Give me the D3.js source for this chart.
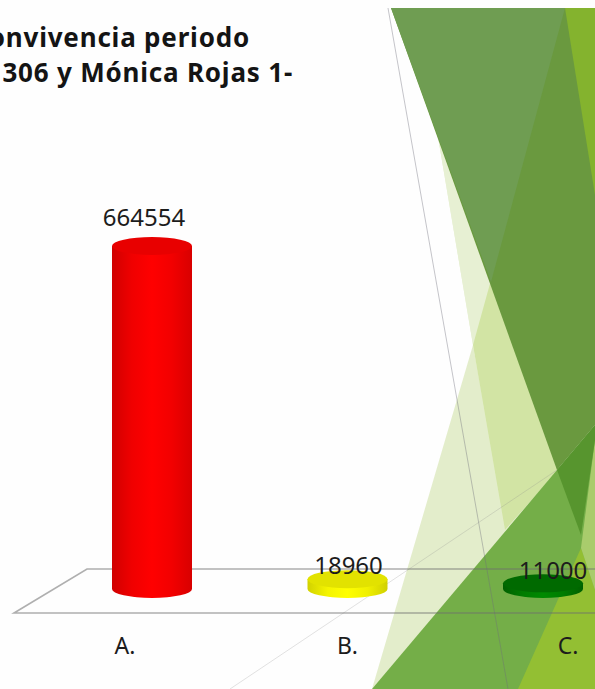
<!DOCTYPE html>
<html><head><meta charset="utf-8">
<script src="https://cdn.jsdelivr.net/npm/d3@7"></script>
<style>html,body{margin:0;padding:0;background:#fefefe;overflow:hidden}svg{display:block}</style>
</head><body><svg id="c" width="595" height="689"></svg>
<script>
const categories = ["A.", "B.", "C."];
const values = [664554, 18960, 11000];
const titleLines = ["convivencia periodo", "306 y Mónica Rojas 1-"];
const sideStops = [["#d00000","#f00000","#ff0000","#f20000","#d80000"],
                   ["#d2d200","#f4f400","#ffff00","#f0f000","#d0d000"],
                   ["#006000","#007c00","#008a00","#007c00","#006000"]];
const topColors = ["#e80000","#e2e200","#006a00"];
const labelDx = [-8, 1, 10];
const labelDy = [-20, -5, -4];
const catDx = [-27, 0, 25];

const svg = d3.select("#c");
const x = d3.scalePoint().domain(categories).range([152, 543]);
const y = d3.scaleLinear().domain([0, 664554]).range([589, 246]);
const rx = 40, ry = 9;

const bg = svg.append("g");
const poly = (pts, fill, op=1) => bg.append("polygon").attr("points", pts.join(" ")).attr("fill", fill).attr("opacity", op);
poly([[473,345],[372,689],[520,600]], "#e3edcb");
poly([[438,137],[473,345],[510,560],[560,470],[488,280]], "#e7f0d3");
poly([[438,137],[473,345],[491,280]], "#e7f0d3");
poly([[473,345],[491,280],[560,468],[505,530]], "#d2e4a4");
poly([[372,689],[595,425],[595,689]], "#74ae48");
poly([[518,689],[595,689],[595,590],[581,548]], "#93bf33");
poly([[581,548],[595,440],[595,590]], "#a9cc6c");
poly([[391,8],[595,8],[595,425],[557,470]], "#6a993f");
poly([[391,8],[565,8],[491,282]], "#6f9d52");
poly([[565,8],[595,8],[595,195]], "#84b32e");
poly([[557,470],[595,425],[595,440],[581,535]], "#57952e");

bg.append("line").attr("x1",388).attr("y1",8).attr("x2",508).attr("y2",689).attr("stroke","#6d6d7a").attr("stroke-opacity",.4).attr("stroke-width",1);
bg.append("line").attr("x1",230).attr("y1",689).attr("x2",557).attr("y2",470).attr("stroke","#8a8a8a").attr("stroke-opacity",.25).attr("stroke-width",1);

const floor = svg.append("g").attr("fill","none").attr("stroke","#6e6e6e").attr("stroke-opacity",.55).attr("stroke-width",1.6);
floor.append("path").attr("d", d3.line()([[595,569],[87,569],[14,613],[595,613]]));

const defs = svg.append("defs");
sideStops.forEach((s,i) => {
  const g = defs.append("linearGradient").attr("id","g"+i);
  s.forEach((c,j) => g.append("stop").attr("offset", j/(s.length-1)).attr("stop-color", c));
});

categories.forEach((c,i) => {
  const cx = x(c), yt = y(values[i]), yb = y(0);
  const g = svg.append("g");
  g.append("path").attr("fill",`url(#g${i})`)
    .attr("d",`M${cx-rx},${yt}L${cx-rx},${yb}A${rx},${ry} 0 0 0 ${cx+rx},${yb}L${cx+rx},${yt}Z`);
  g.append("ellipse").attr("cx",cx).attr("cy",yt).attr("rx",rx).attr("ry",ry).attr("fill",topColors[i]);
  svg.append("text").attr("x",cx+labelDx[i]).attr("y",yt+labelDy[i])
    .attr("text-anchor","middle").attr("font-family","Noto Sans").attr("font-size",24).attr("fill","#1c1c1c").text(values[i]);
  svg.append("text").attr("x",cx+catDx[i]).attr("y",654)
    .attr("text-anchor","middle").attr("font-family","Noto Sans").attr("font-size",23).attr("fill","#1c1c1c").text(c);
});

const ends = [250, 293], bases = [47, 82];
titleLines.forEach((t,i) => svg.append("text").attr("x",ends[i]).attr("y",bases[i])
  .attr("text-anchor","end").attr("font-family","Noto Sans").attr("font-weight","bold").attr("font-size",26).attr("letter-spacing",0.8).attr("fill","#141414").text(t));
</script></body></html>
